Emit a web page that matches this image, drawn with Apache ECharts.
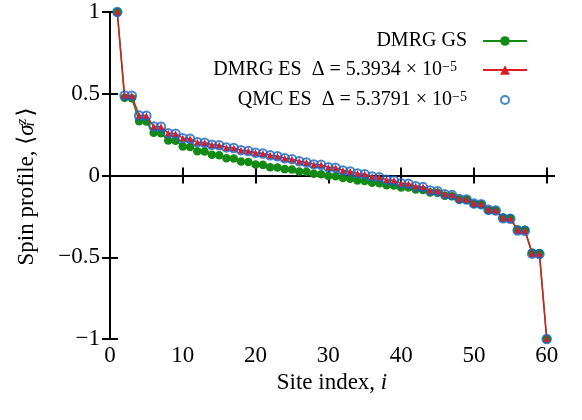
<!DOCTYPE html>
<html>
<head>
<meta charset="utf-8">
<script src="https://cdn.jsdelivr.net/npm/echarts@6/dist/echarts.min.js"></script>
<style>
  html, body { margin: 0; padding: 0; background: #fff; }
  #chart { width: 582px; height: 420px; }
</style>
</head>
<body>
<div id="chart"></div>
<script>
// Site indices along the chain
const sites = [1, 2, 3, 4, 5, 6, 7, 8, 9, 10, 11, 12, 13, 14, 15, 16, 17, 18, 19, 20,
  21, 22, 23, 24, 25, 26, 27, 28, 29, 30, 31, 32, 33, 34, 35, 36, 37, 38, 39, 40,
  41, 42, 43, 44, 45, 46, 47, 48, 49, 50, 51, 52, 53, 54, 55, 56, 57, 58, 59, 60];

// <sigma_i^z> for the DMRG ground state
const dmrgGS = [1, 0.475, 0.473, 0.332, 0.330, 0.261, 0.259, 0.214, 0.212, 0.177,
  0.175, 0.149, 0.147, 0.127, 0.124, 0.106, 0.104, 0.085, 0.083, 0.067,
  0.065, 0.051, 0.049, 0.039, 0.037, 0.024, 0.023, 0.010, 0.008, -0.003,
  -0.005, -0.016, -0.020, -0.031, -0.033, -0.045, -0.047, -0.059, -0.061, -0.073,
  -0.074, -0.086, -0.088, -0.104, -0.106, -0.124, -0.127, -0.147, -0.149, -0.175,
  -0.177, -0.212, -0.214, -0.259, -0.261, -0.330, -0.332, -0.473, -0.475, -1];

// <sigma_i^z> for the DMRG excited state
const dmrgES = [1, 0.489, 0.488, 0.367, 0.365, 0.300, 0.298, 0.259, 0.256, 0.228,
  0.225, 0.204, 0.200, 0.188, 0.185, 0.172, 0.168, 0.155, 0.150, 0.139,
  0.134, 0.124, 0.118, 0.106, 0.100, 0.087, 0.080, 0.068, 0.065, 0.050,
  0.047, 0.031, 0.025, 0.012, 0.008, -0.006, -0.010, -0.026, -0.031, -0.047,
  -0.050, -0.066, -0.071, -0.092, -0.096, -0.114, -0.120, -0.143, -0.147, -0.171,
  -0.176, -0.210, -0.214, -0.262, -0.264, -0.336, -0.338, -0.478, -0.480, -1];

// <sigma_i^z> for the QMC excited state
const qmcES = [1, 0.489, 0.488, 0.367, 0.365, 0.300, 0.298, 0.259, 0.256, 0.228,
  0.225, 0.204, 0.200, 0.188, 0.185, 0.172, 0.168, 0.155, 0.150, 0.139,
  0.134, 0.124, 0.118, 0.106, 0.100, 0.087, 0.080, 0.068, 0.065, 0.050,
  0.047, 0.031, 0.025, 0.012, 0.008, -0.006, -0.010, -0.026, -0.031, -0.047,
  -0.050, -0.066, -0.071, -0.092, -0.096, -0.114, -0.120, -0.143, -0.147, -0.171,
  -0.176, -0.210, -0.214, -0.262, -0.264, -0.336, -0.338, -0.478, -0.480, -1];

const xTicks = [0, 10, 20, 30, 40, 50, 60];
const yTicks = [-1, -0.5, 0, 0.5, 1];

const seriesNames = ['DMRG GS', 'DMRG ES', 'QMC ES'];
const legendLabels = {
  'DMRG GS': 'DMRG GS',
  'DMRG ES': 'DMRG ES  Δ = 5.3934 × 10{sup|−5}',
  'QMC ES': 'QMC ES  Δ = 5.3791 × 10{sup|−5}'
};

const GREEN = '#138a13';
const RED = '#e01b24';
const BLUE = '#1565c0';
const FONT = '"Liberation Serif", "DejaVu Serif", serif';

const pairs = (ys) => sites.map((s, k) => [s, ys[k]]);

function fmtNum(v) {
  if (v < 0) return '−' + String(-v);
  return String(v);
}

const chart = echarts.init(document.getElementById('chart'), null, { renderer: 'canvas' });

const axisLineStyle = { color: '#000', width: 2 };

// One legend block per entry so that all entries share a right edge
function legendFor(name, right, top, iconH, padRight) {
  return {
    data: [name],
    orient: 'vertical',
    right: right,
    top: top,
    align: 'right',
    itemWidth: 44,
    itemHeight: iconH,
    padding: 0,
    selectedMode: false,
    formatter: (n) => legendLabels[n],
    textStyle: {
      fontFamily: FONT,
      fontSize: 20,
      color: '#000',
      padding: [0, padRight, 0, 0],
      rich: {
        sup: { fontFamily: FONT, fontSize: 14, verticalAlign: 'top', color: '#000' }
      }
    }
  };
}

const option = {
  animation: false,
  backgroundColor: '#fff',
  textStyle: { fontFamily: FONT },
  grid: { left: 110, right: 28, top: 12, bottom: 81, containLabel: false },
  legend: [
    legendFor('DMRG GS', 54, 31, 12, 11),
    legendFor('DMRG ES', 54, 60, 12, 21),
    legendFor('QMC ES', 72, 90, 8, 11)
  ],
  xAxis: [
    {
      type: 'value', min: 0, max: 61, interval: 10, position: 'bottom',
      name: 'Site index, {it|i}', nameLocation: 'middle', nameGap: 29,
      nameTextStyle: {
        fontFamily: FONT, fontSize: 23, color: '#000',
        rich: { it: { fontFamily: FONT, fontSize: 23, fontStyle: 'italic', color: '#000' } }
      },
      axisLine: { show: true, lineStyle: axisLineStyle },
      axisTick: { show: true, inside: true, length: 8, lineStyle: axisLineStyle,
        customValues: xTicks },
      axisLabel: { show: true, margin: 5, fontFamily: FONT, fontSize: 23, color: '#000',
        customValues: xTicks, formatter: (v) => fmtNum(v) },
      splitLine: { show: false }
    },
    {
      type: 'value', min: 0, max: 61, interval: 10, position: 'top',
      axisLine: { show: true, lineStyle: axisLineStyle },
      axisTick: { show: true, inside: true, length: 8, lineStyle: axisLineStyle,
        customValues: xTicks },
      axisLabel: { show: false },
      splitLine: { show: false }
    }
  ],
  yAxis: [
    {
      type: 'value', min: -1, max: 1, interval: 0.5, position: 'left',
      name: 'Spin profile, ⟨{s|σ}{sub|i}{sup|z}⟩', nameLocation: 'middle', nameGap: 72,
      nameRotate: 90,
      nameTextStyle: {
        fontFamily: FONT, fontSize: 23, color: '#000', padding: [0, 22, 0, 0],
        rich: {
          s: { fontFamily: FONT, fontSize: 23, fontStyle: 'italic', color: '#000' },
          sub: { fontFamily: FONT, fontSize: 15, fontStyle: 'italic', color: '#000',
            verticalAlign: 'bottom', width: 0 },
          sup: { fontFamily: FONT, fontSize: 15, fontStyle: 'italic', color: '#000',
            verticalAlign: 'top', padding: [0, 2, 0, 0] }
        }
      },
      axisLine: { show: true, lineStyle: axisLineStyle },
      axisTick: { show: true, inside: true, length: 8, lineStyle: axisLineStyle },
      axisLabel: { show: true, margin: 10, fontFamily: FONT, fontSize: 23, color: '#000',
        customValues: yTicks, formatter: (v) => fmtNum(v) },
      splitLine: { show: false }
    },
    {
      type: 'value', min: -1, max: 1, interval: 0.5, position: 'right',
      axisLine: { show: true, lineStyle: axisLineStyle },
      axisTick: { show: true, inside: true, length: 8, lineStyle: axisLineStyle },
      axisLabel: { show: false },
      splitLine: { show: false }
    }
  ],
  series: [
    {
      name: seriesNames[0], type: 'line', data: pairs(dmrgGS),
      symbol: 'circle', symbolSize: 8.5,
      lineStyle: { color: GREEN, width: 1.5 },
      itemStyle: { color: GREEN },
      z: 2
    },
    {
      name: seriesNames[1], type: 'line', data: pairs(dmrgES),
      symbol: 'triangle', symbolSize: 7,
      lineStyle: { color: RED, width: 1.5 },
      itemStyle: { color: RED },
      z: 3
    },
    {
      name: seriesNames[2], type: 'scatter', data: pairs(qmcES),
      symbol: 'circle', symbolSize: 8.5,
      itemStyle: { color: 'rgba(0,0,0,0)', borderColor: BLUE, borderWidth: 2 },
      z: 4
    }
  ]
};

chart.setOption(option);
</script>
</body>
</html>
